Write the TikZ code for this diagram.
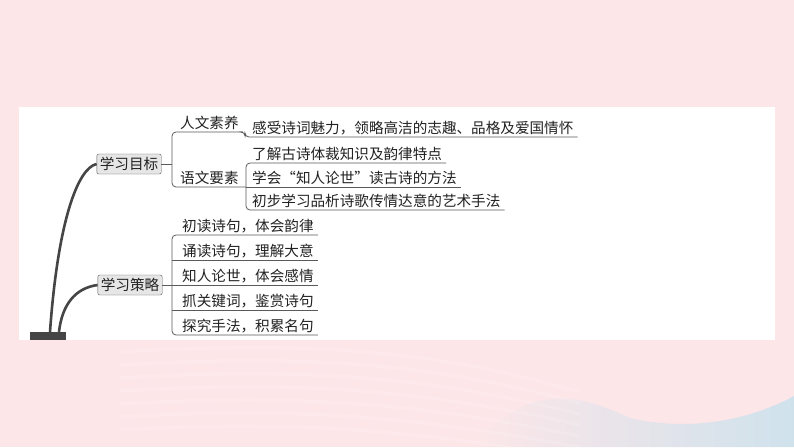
\documentclass[tikz,border=0pt]{standalone}
\usepackage{fontspec}
\usepackage{tikz}
\newfontfamily\cjk{Noto Sans CJK SC}
\definecolor{bgpink}{HTML}{FDE6E8}
\definecolor{waveblue}{HTML}{CFE2EC}
\definecolor{linegray}{HTML}{5A5A5A}
\definecolor{boxgray}{HTML}{E6E6E6}
\definecolor{rootgray}{HTML}{454545}
\definecolor{textgray}{HTML}{222222}

\begin{document}
\begin{tikzpicture}[x=1pt, y=-1pt,
	font=\cjk\fontsize{14.6}{17}\selectfont,
	topic/.style={anchor=south west, inner xsep=4pt, inner ysep=0pt, text depth=3pt, text=textgray},
	mainbox/.style={draw=linegray, fill=boxgray, rounded corners=2pt, inner xsep=3pt, inner ysep=2pt, minimum height=20pt, text=textgray},
	branch/.style={draw=linegray, line width=0.8pt, rounded corners=4pt},
	stem/.style={draw=rootgray, line width=2.6pt}]
	\useasboundingbox (0,0) rectangle (794,447);

	% background
	\fill[bgpink] (0,0) rectangle (794,447);
	\shade[left color=bgpink, right color=waveblue] (470,447) .. controls (530,380) and (580,395) .. (630,418) .. controls (690,432) and (750,420) .. (794,396) -- (794,447) -- cycle;
	\foreach \k in {0,...,6}
		\draw[white, opacity=0.15, line width=3pt] (120,352+\k*13) .. controls (320,340+\k*13) and (440,352+\k*14) .. (580,392+\k*11);
	\fill[white] (19,107) rectangle (775,340);

	% root and main branches
	\node[fill=rootgray, minimum width=36pt, minimum height=8pt, inner sep=0pt] (root) at (48,336) {};
	\node[mainbox] (mubiao) at (129,164) {学习目标};
	\node[mainbox] (celue) at (130,285) {学习策略};
	\draw[stem] ([xshift=2pt]root.north) .. controls (58,220) and (78,168) .. (mubiao.west);
	\draw[stem] ([xshift=11pt]root.north) .. controls (62,305) and (75,288) .. (celue.west);

	% 学习目标
	\coordinate (jA) at (172,164);
	\coordinate (jB) at (245,137);
	\coordinate (jC) at (246,187);
	\node[topic] (renwen) at (176,132) {人文素养};
	\node[topic] (yuwen) at (176,187) {语文要素};
	\node[topic] (ganshou) at (248,137) {感受诗词魅力，领略高洁的志趣、品格及爱国情怀};
	\node[topic] (liaojie) at (248,163) {了解古诗体裁知识及韵律特点};
	\node[topic] (xuehui) at (248,187) {学会“知人论世”读古诗的方法};
	\node[topic] (chubu) at (248,210) {初步学习品析诗歌传情达意的艺术手法};

	\draw[branch] (mubiao.east) -- (jA);
	\draw[branch] (renwen.south east) -- (renwen.south -| jA) -- (yuwen.south -| jA) -- (jC);
	\draw[branch] (renwen.south east) -- (renwen.south -| jB) -- (ganshou.south -| jB) -- (ganshou.south east);
	\draw[branch] (liaojie.south east) -- (liaojie.south -| jC) -- (chubu.south -| jC) -- (chubu.south east);
	\draw[branch] (jC) -- (xuehui.south east);

	% 学习策略
	\coordinate (jD) at (172,285);
	\foreach \n/\y/\t in {c1/235/初读诗句，体会韵律, c2/260/诵读诗句，理解大意, c3/285/知人论世，体会感情, c4/310/抓关键词，鉴赏诗句, c5/335/探究手法，积累名句}
		\node[topic] (\n) at (178,\y) {\t};
	\draw[branch] (celue.east) -- (jD);
	\draw[branch] (c1.south east) -- (c1.south -| jD) -- (c5.south -| jD) -- (c5.south east);
	\foreach \n in {c2,c3,c4}
		\draw[branch] (\n.south -| jD) -- (\n.south east);
\end{tikzpicture}
\end{document}
